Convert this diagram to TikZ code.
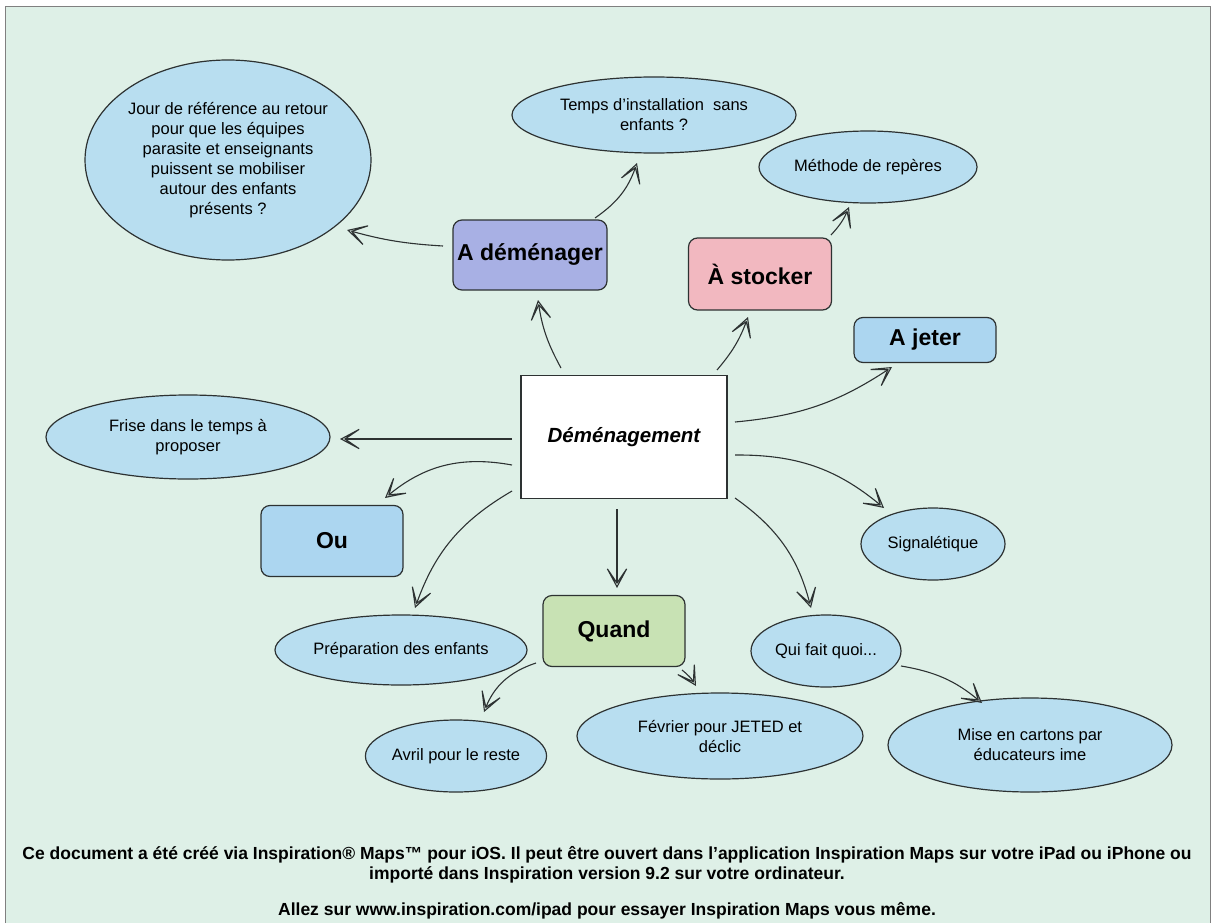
\documentclass[tikz,border=0pt]{standalone}
\usepackage{fontspec}
\setmainfont{Liberation Sans}
\usetikzlibrary{shapes.geometric,arrows.meta}
\definecolor{bggreen}{RGB}{222,240,231}
\definecolor{ellblue}{RGB}{184,222,240}
\definecolor{boxlav}{RGB}{168,176,228}
\definecolor{boxpink}{RGB}{242,184,192}
\definecolor{boxblue}{RGB}{172,214,240}
\definecolor{boxgreen}{RGB}{200,226,180}
\definecolor{edgecol}{RGB}{45,50,50}
\begin{document}
\begin{tikzpicture}[x=1pt,y=-1pt,
  bubble/.style={ellipse, draw=edgecol, line width=1.2pt, fill=ellblue, inner sep=0pt, align=center, font=\fontsize{16.5}{20}\selectfont},
  topic/.style={rectangle, rounded corners=9pt, draw=edgecol, line width=1.2pt, inner sep=0pt, align=center, font=\fontsize{23}{26}\selectfont\bfseries},
  link/.style={draw=edgecol, line width=1.1pt, -{Stealth[open, length=28pt, width=30pt, inset=22pt]}},
  footer/.style={font=\fontsize{17.5}{20}\selectfont\bfseries, align=center, inner sep=0pt}
]
\useasboundingbox (0,0) rectangle (1214,923);
\fill[white] (0,0) rectangle (1214,923);
\fill[bggreen] (5,6) rectangle (1210,923);
\draw[gray, line width=0.8pt] (5,923) -- (5,6) -- (1210,6) -- (1210,923);

% nodes
\node[bubble, minimum width=286pt, minimum height=200pt] (jour) at (228,160)
  {Jour de référence au retour\\pour que les équipes\\parasite et enseignants\\puissent se mobiliser\\autour des enfants\\présents ?};
\node[bubble, minimum width=284pt, minimum height=76pt] (temps) at (654,115)
  {Temps d'installation\ \ sans\\enfants ?};
\node[bubble, minimum width=218pt, minimum height=72pt] (meth) at (868,167) {Méthode de repères};
\node[topic, fill=boxlav, minimum width=154pt, minimum height=70pt] (dem) at (530,255) {A déménager};
\node[topic, fill=boxpink, minimum width=143pt, minimum height=72pt] (sto) at (760,274) {À stocker};
\node[topic, fill=boxblue, minimum width=142pt, minimum height=45pt] (jet) at (925,340) {A jeter};
\node[rectangle, draw=edgecol, line width=1.3pt, fill=white, minimum width=206pt, minimum height=123pt,
  font=\fontsize{20.5}{24}\selectfont\bfseries\itshape] (cen) at (624,437) {Déménagement};
\node[bubble, minimum width=284pt, minimum height=84pt] (frise) at (188,437) {Frise dans le temps à\\proposer};
\node[topic, fill=boxblue, minimum width=142pt, minimum height=71pt] (ou) at (332,541) {Ou};
\node[topic, fill=boxgreen, minimum width=142pt, minimum height=71pt] (quand) at (614,631) {Quand};
\node[bubble, minimum width=144pt, minimum height=72pt] (sig) at (933,544) {Signalétique};
\node[bubble, minimum width=252pt, minimum height=70pt] (prep) at (401,650) {Préparation des enfants};
\node[bubble, minimum width=150pt, minimum height=72pt] (qui) at (826,651) {Qui fait quoi...};
\node[bubble, minimum width=168pt, minimum height=72pt] (avril) at (456,756) {Avril pour le reste};
\node[bubble, minimum width=286pt, minimum height=86pt] (fev) at (720,736) {Février pour JETED et\\déclic};
\node[bubble, minimum width=284pt, minimum height=94pt] (mise) at (1030,745) {Mise en cartons par\\éducateurs ime};

% connectors
\draw[link] ([shift={(-87,-9)}]dem.center) to[bend left=6] ([shift={(119,70)}]jour.center);
\draw[link] ([shift={(65,-37)}]dem.center) to[bend right=18] ([shift={(-17,48)}]temps.center);
\draw[link] ([shift={(-63,-69)}]cen.center) to[bend left=10] ([shift={(8,45)}]dem.center);
\draw[link] ([shift={(93,-67)}]cen.center) to[bend right=10] ([shift={(-12,43)}]sto.center);
\draw[link] ([shift={(71,-39)}]sto.center) to[bend right=10] ([shift={(-19,40)}]meth.center);
\draw[link] ([shift={(111,-15)}]cen.center) to[bend right=14] ([shift={(-33,27)}]jet.center);
\draw[link] ([shift={(-112,2)}]cen.center) -- ([shift={(152,2)}]frise.center);
\draw[link] ([shift={(-112,28)}]cen.center) to[bend right=25] ([shift={(53,-43)}]ou.center);
\draw[link] ([shift={(-112,54)}]cen.center) to[bend right=20] ([shift={(14,-42)}]prep.center);
\draw[link] ([shift={(-7,72)}]cen.center) -- ([shift={(3,-43)}]quand.center);
\draw[link] ([shift={(111,18)}]cen.center) to[bend left=20] ([shift={(-49,-36)}]sig.center);
\draw[link] ([shift={(111,61)}]cen.center) to[bend left=20] ([shift={(-15,-43)}]qui.center);
\draw[link] ([shift={(-78,32)}]quand.center) to[bend right=25] ([shift={(28,-44)}]avril.center);
\draw[link] ([shift={(68,39)}]quand.center) to[bend left=10] ([shift={(-24,-50)}]fev.center);
\draw[link] ([shift={(75,15)}]qui.center) to[bend left=15] ([shift={(-48,-42)}]mise.center);

% footer
\node[footer] (f1) at (607,855) {Ce document a été créé via Inspiration® Maps™ pour iOS. Il peut être ouvert dans l'application Inspiration Maps sur votre iPad ou iPhone ou};
\node[footer] (f2) at (607,875) {importé dans Inspiration version 9.2 sur votre ordinateur.};
\node[footer] (f3) at (607,911) {Allez sur www.inspiration.com/ipad pour essayer Inspiration Maps vous même.};
\end{tikzpicture}
\end{document}
